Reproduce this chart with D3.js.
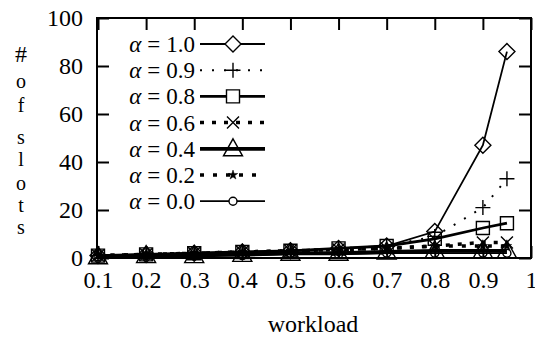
<!DOCTYPE html>
<html>
<head>
<meta charset="utf-8">
<script src="https://cdn.jsdelivr.net/npm/d3@7"></script>
<style>
  html, body { margin: 0; padding: 0; background: #fff; }
</style>
</head>
<body>
<div id="chart"></div>
<script>
// workload values on the x axis
const workload = [0.1, 0.2, 0.3, 0.4, 0.5, 0.6, 0.7, 0.8, 0.9, 0.95];
const xTicks = [0.1, 0.2, 0.3, 0.4, 0.5, 0.6, 0.7, 0.8, 0.9, 1];
const yTicks = [0, 20, 40, 60, 80, 100];

// number of slots per alpha
const alphaLabels = ['1.0', '0.9', '0.8', '0.6', '0.4', '0.2', '0.0'];
const slotsA10 = [1, 1.5, 2, 2.5, 3, 4, 5, 11, 47, 86];
const slotsA09 = [1, 1.5, 2, 2.5, 3, 4, 5, 9, 21, 33];
const slotsA08 = [1, 1.5, 2, 2.5, 3, 4, 5, 8, 12.5, 14.5];
const slotsA06 = [1, 1.5, 2, 2.5, 3, 3.5, 4, 5, 6.5, 6.5];
const slotsA04 = [0.5, 1, 1, 1.5, 2, 2, 2.5, 3, 3, 3];
const slotsA02 = [1, 1.5, 2, 2.5, 3, 3.5, 4, 5, 5, 5];
const slotsA00 = [0.5, 1, 1, 1, 1.5, 1.5, 2, 2, 2, 2];

const allSlots = [slotsA10, slotsA09, slotsA08, slotsA06, slotsA04, slotsA02, slotsA00];

// line + point style per series (gnuplot-ish)
const styles = [
  { width: 1.8, dash: null,   marker: 'diamond' },
  { width: 2,   dash: '2,10', marker: 'plus' },
  { width: 2.8, dash: null,   marker: 'square' },
  { width: 3.5, dash: '4,8',  marker: 'cross' },
  { width: 3.8, dash: null,   marker: 'triangle' },
  { width: 3.5, dash: '4,9',  marker: 'star' },
  { width: 1.8, dash: null,   marker: 'circle' }
];

const FONT = 'Liberation Serif';
const W = 535, H = 339;
const plot = { left: 97, right: 531, top: 18, bottom: 258 };

const svg = d3.select('#chart').append('svg')
  .attr('width', W).attr('height', H)
  .attr('font-family', FONT);

const x = d3.scaleLinear().domain([0.1, 1]).range([98, 531]);
const y = d3.scaleLinear().domain([0, 100]).range([plot.bottom, plot.top]);

function markerPath(type) {
  switch (type) {
    case 'diamond': return 'M0,-8L8,0L0,8L-8,0Z';
    case 'plus': return 'M-7.5,0H7.5M0,-7.5V7.5';
    case 'square': return 'M-6.5,-6.5H6.5V6.5H-6.5Z';
    case 'cross': return 'M-6,-6L6,6M-6,6L6,-6';
    case 'triangle': return 'M0,-10L9.5,7H-9.5Z';
    case 'star': return d3.symbol(d3.symbolStar, 28)();
    case 'circle': return 'M4,0A4,4 0 1,1 -4,0A4,4 0 1,1 4,0Z';
  }
}

function drawMarker(g, type, cx, cy, fill) {
  const p = g.append('path')
    .attr('transform', `translate(${cx},${cy})`)
    .attr('d', markerPath(type))
    .attr('stroke', '#000')
    .attr('stroke-width', 1.4);
  if (type === 'star') p.attr('fill', '#000').attr('stroke-width', 0.5);
  else p.attr('fill', fill);
}

// series lines and points
const line = d3.line().x((d, i) => x(workload[i])).y(d => y(d));
const dataG = svg.append('g');
allSlots.forEach((vals, si) => {
  const st = styles[si];
  dataG.append('path')
    .datum(vals)
    .attr('fill', 'none')
    .attr('stroke', '#000')
    .attr('stroke-width', st.width)
    .attr('stroke-dasharray', st.dash)
    .attr('d', line);
  vals.forEach((v, i) => drawMarker(dataG, st.marker, x(workload[i]), y(v), 'none'));
});

// axes with inward ticks
const bottomAxis = svg.append('g')
  .attr('transform', `translate(0,${plot.bottom})`)
  .call(d3.axisBottom(x).tickValues(xTicks).tickSizeInner(-12).tickSizeOuter(0).tickPadding(13)
    .tickFormat(d => d === 1 ? '1' : d3.format('.1f')(d)));
const topAxis = svg.append('g')
  .attr('transform', `translate(0,${plot.top})`)
  .call(d3.axisTop(x).tickValues(xTicks).tickSizeInner(-12).tickSizeOuter(0).tickFormat(''));
const leftAxis = svg.append('g')
  .attr('transform', `translate(${plot.left},0)`)
  .call(d3.axisLeft(y).tickValues(yTicks).tickSizeInner(-12).tickSizeOuter(0).tickPadding(14));
const rightAxis = svg.append('g')
  .attr('transform', `translate(${plot.right},0)`)
  .call(d3.axisRight(y).tickValues(yTicks).tickSizeInner(-12).tickSizeOuter(0).tickFormat(''));

[bottomAxis, topAxis, leftAxis, rightAxis].forEach(a => {
  a.select('.domain').remove();
  a.attr('font-family', FONT).attr('font-size', 24);
  a.selectAll('line').attr('stroke', '#000').attr('stroke-width', 2);
  a.selectAll('text').attr('fill', '#000');
});

svg.append('rect')
  .attr('x', plot.left).attr('y', plot.top)
  .attr('width', plot.right - plot.left).attr('height', plot.bottom - plot.top)
  .attr('fill', 'none').attr('stroke', '#000').attr('stroke-width', 2);

// legend
const legend = svg.append('g').attr('font-family', FONT).attr('font-size', 23);
alphaLabels.forEach((lab, i) => {
  const ly = 44 + i * 26.2;
  const st = styles[i];
  const t = legend.append('text')
    .attr('x', 195).attr('y', ly + 8)
    .attr('text-anchor', 'end');
  t.append('tspan').attr('font-style', 'italic').text('α');
  t.append('tspan').attr('dx', 6).text('=');
  t.append('tspan').attr('dx', 6).text(lab);
  legend.append('line')
    .attr('x1', 200).attr('x2', 265).attr('y1', ly).attr('y2', ly)
    .attr('stroke', '#000')
    .attr('stroke-width', st.width)
    .attr('stroke-dasharray', st.dash);
  drawMarker(legend, st.marker, 233, ly, st.marker === 'triangle' ? 'none' : '#fff');
});

// axis titles
svg.append('text')
  .attr('x', 313).attr('y', 332)
  .attr('text-anchor', 'middle')
  .attr('font-size', 24)
  .text('workload');

const yLetters = ['#', 'o', 'f', 's', 'l', 'o', 't', 's'];
const yBase = [62, 88, 112, 144, 166, 190, 212, 234];
yLetters.forEach((ch, i) => {
  svg.append('text')
    .attr('x', 21).attr('y', yBase[i])
    .attr('text-anchor', 'middle')
    .attr('font-size', ch === '#' ? 24 : 20)
    .text(ch);
});
</script>
</body>
</html>
